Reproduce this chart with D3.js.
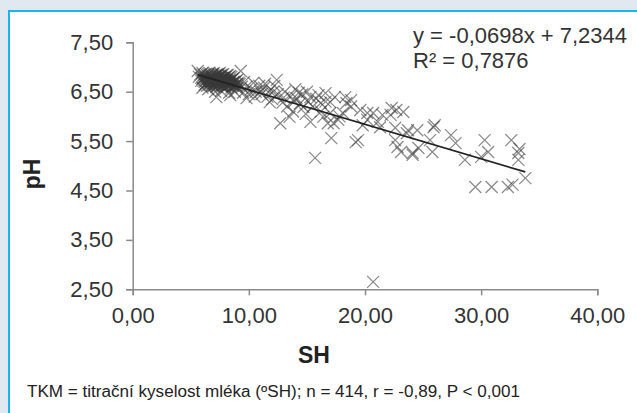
<!DOCTYPE html>
<html>
<head>
<meta charset="utf-8">
<script src="https://cdn.jsdelivr.net/npm/d3@7"></script>
<style>
body { margin: 0; background: #dfe9ef; }
svg { display: block; }
.tick text { font-family: "Liberation Sans", Arial, sans-serif; font-size: 22px; fill: #333; }
.axis path, .axis line { stroke: #8a8a8a; stroke-width: 1.5; }
</style>
</head>
<body>
<div id="chart"></div>
<script>
var width = 637;
var height = 413;

// SH (x) vs pH (y)
var points = [
	// dense group at low SH
	[5.6,6.92],[5.8,6.85],[5.9,6.78],[6.0,6.88],[6.1,6.72],[6.2,6.80],[6.3,6.66],[6.3,6.86],
	[6.4,6.75],[6.5,6.70],[6.5,6.82],[6.6,6.64],[6.6,6.88],[6.7,6.77],[6.8,6.70],[6.8,6.84],
	[6.9,6.62],[6.9,6.80],[7.0,6.74],[7.0,6.88],[7.1,6.68],[7.1,6.82],[7.2,6.60],[7.2,6.76],
	[7.3,6.86],[7.3,6.70],[7.4,6.64],[7.4,6.80],[7.5,6.74],[7.5,6.88],[7.6,6.68],[7.6,6.84],
	[7.7,6.60],[7.7,6.78],[7.8,6.72],[7.8,6.86],[7.9,6.66],[7.9,6.80],[8.0,6.58],[8.0,6.74],
	[8.1,6.84],[8.1,6.68],[8.2,6.62],[8.2,6.78],[8.3,6.72],[8.4,6.66],[8.4,6.82],[8.5,6.58],
	[8.5,6.74],[8.6,6.68],[8.7,6.62],[8.7,6.78],[8.8,6.70],[8.9,6.64],[9.0,6.58],[9.0,6.74],
	[9.2,6.66],[9.3,6.92],[9.4,6.60],[9.6,6.70],
	[6.1,6.84],[6.4,6.62],[6.7,6.68],[7.0,6.62],[7.3,6.78],[7.6,6.76],[7.9,6.72],[8.2,6.70],
	[8.8,6.62],[6.2,6.70],[6.6,6.76],[7.2,6.84],[7.8,6.64],[8.3,6.80],[5.9,6.72],[6.8,6.76],
	[7.4,6.72],[8.0,6.66],[8.6,6.76],[9.1,6.68],[6.4,6.80],[6.9,6.72],[7.5,6.66],[8.1,6.76],
	[5.7,6.80],[6.0,6.76],[6.2,6.64],[6.3,6.78],[6.5,6.86],[6.6,6.70],[6.7,6.82],[6.8,6.64],
	[6.9,6.86],[7.0,6.68],[7.1,6.76],[7.2,6.70],[7.3,6.64],[7.4,6.86],[7.5,6.80],[7.6,6.62],
	[7.7,6.72],[7.7,6.84],[7.8,6.78],[7.9,6.60],[8.0,6.80],[8.1,6.62],[8.2,6.84],[8.3,6.64],
	[8.4,6.74],[8.5,6.80],[8.6,6.62],[8.7,6.70],[8.9,6.72],[9.0,6.66],[6.1,6.78],[6.3,6.72],
	[6.5,6.76],[6.7,6.72],[6.9,6.76],[7.1,6.72],[7.3,6.74],[7.5,6.70],[7.7,6.68],[7.9,6.76],
	[8.1,6.72],[8.3,6.68],[8.5,6.66],[6.4,6.68],[6.8,6.80],[7.2,6.66],[7.6,6.72],[8.0,6.70],
	[6.0,6.58],[6.5,6.55],[7.1,6.50],[7.6,6.52],[8.3,6.48],[7.2,6.39],[8.4,6.43],[8.8,6.50],
	[9.5,6.48],[9.8,6.37],[10.0,6.45],
	// 9 - 16 SH
	[9.8,6.60],[10.2,6.55],[10.4,6.68],[10.6,6.50],[10.9,6.62],[11.0,6.50],[11.1,6.45],[11.3,6.58],
	[11.6,6.40],[11.8,6.29],[11.8,6.52],[12.0,6.35],[12.2,6.62],[12.4,6.74],[12.5,6.45],[12.7,5.86],
	[12.9,6.28],[13.1,6.50],[13.3,6.20],[13.5,5.99],[13.6,6.40],[13.8,6.10],[14.0,6.55],[14.1,6.37],
	[14.4,6.26],[14.6,6.45],[14.7,6.19],[14.9,6.05],[15.0,6.50],[15.3,6.39],[15.3,5.89],[15.5,6.20],
	[15.7,5.16],[16.0,6.43],[16.2,6.10],[16.2,6.27],[16.4,5.99],[16.6,6.47],[16.6,6.30],[16.8,5.86],
	[10.5,6.40],[11.4,6.66],[12.1,6.50],[13.0,6.38],[13.9,6.30],[14.3,6.48],[15.1,6.30],[15.8,6.36],
	// 17 - 24 SH
	[17.0,6.29],[17.0,6.07],[17.1,5.56],[17.3,5.86],[17.4,6.39],[17.7,5.93],[17.8,6.00],[18.1,6.07],
	[18.3,6.39],[18.4,6.27],[18.8,6.33],[18.8,6.20],[19.2,5.48],[19.4,5.52],[19.6,6.13],[19.8,5.82],
	[20.2,5.93],[20.2,6.07],[20.7,6.07],[20.7,2.65],[21.1,5.89],[21.3,5.78],[21.5,6.03],[22.2,6.03],
	[22.3,6.17],[22.6,5.77],[22.6,5.52],[22.7,6.13],[22.8,5.38],[23.1,5.28],[23.3,6.09],[23.6,5.66],
	[23.7,5.72],[24.1,5.26],[24.1,5.22],[24.5,5.72],[24.6,5.36],
	// 25 - 34 SH
	[25.6,5.52],[25.8,5.28],[25.9,5.78],[26.0,5.82],[27.4,5.62],[27.8,5.46],[28.6,5.12],[29.5,4.57],
	[30.0,5.18],[30.3,5.52],[30.6,5.28],[30.9,4.57],[32.3,4.57],[32.6,5.52],[32.7,4.62],[33.2,5.26],
	[33.2,5.12],[33.3,5.34],[33.8,4.75]
];

var xTicks = [0, 10, 20, 30, 40];
var yTicks = [2.5, 3.5, 4.5, 5.5, 6.5, 7.5];

var slope = -0.0698;
var intercept = 7.2344;
var eqLines = ['y = -0,0698x + 7,2344', 'R² = 0,7876'];
var note = 'TKM = titrační kyselost mléka (ºSH); n = 414, r = -0,89, P < 0,001';

var svg = d3.select('#chart').append('svg')
	.attr('width', width)
	.attr('height', height);

// white panel with blue frame
svg.append('rect')
	.attr('x', 9)
	.attr('y', 11)
	.attr('width', width + 10)
	.attr('height', height + 10)
	.attr('fill', '#fff')
	.attr('stroke', '#1ab4ee')
	.attr('stroke-width', 2);

var x = d3.scaleLinear().domain([0, 40]).range([132.7, 597.3]);
var y = d3.scaleLinear().domain([2.5, 7.5]).range([289.3, 42.3]);

var fmt = function(d) { return d.toFixed(2).replace('.', ','); };

svg.append('g')
	.attr('class', 'axis')
	.attr('transform', 'translate(0,' + y(2.5) + ')')
	.call(d3.axisBottom(x).tickValues(xTicks).tickFormat(fmt).tickSize(6).tickPadding(12))
	.selectAll('text').attr('dy', '0.71em');

svg.append('g')
	.attr('class', 'axis')
	.attr('transform', 'translate(' + x(0) + ',0)')
	.call(d3.axisLeft(y).tickValues(yTicks).tickFormat(fmt).tickSize(6.5).tickPadding(13));

// markers
svg.append('g').selectAll('.pt')
	.data(points)
	.enter()
	.append('path')
		.attr('class', 'pt')
		.attr('transform', function(d) { return 'translate(' + x(d[0]) + ',' + y(d[1]) + ')'; })
		.attr('d', 'M-6,-6L6,6M-6,6L6,-6')
		.attr('fill', 'none')
		.attr('stroke', '#3a3a3a')
		.attr('stroke-opacity', 0.6)
		.attr('stroke-width', 1.25);

// trend line
var ext = d3.extent(points, function(d) { return d[0]; });
svg.append('line')
	.attr('x1', x(ext[0]))
	.attr('y1', y(slope * ext[0] + intercept))
	.attr('x2', x(ext[1]))
	.attr('y2', y(slope * ext[1] + intercept))
	.attr('stroke', '#222')
	.attr('stroke-width', 1.8);

// equation
svg.append('g').selectAll('.eq')
	.data(eqLines)
	.enter()
	.append('text')
		.attr('x', 413)
		.attr('y', function(d, i) { return 43 + i * 25; })
		.attr('font-family', '"Liberation Sans", Arial, sans-serif')
		.attr('font-size', 22)
		.attr('fill', '#333')
		.text(function(d) { return d; });

// axis titles
svg.append('text')
	.attr('x', 314)
	.attr('y', 363)
	.attr('text-anchor', 'middle')
	.attr('font-family', '"Liberation Sans", Arial, sans-serif')
	.attr('font-weight', 'bold')
	.attr('font-size', 23)
	.attr('fill', '#222')
	.text('SH');

svg.append('text')
	.attr('transform', 'translate(40,174) rotate(-90)')
	.attr('text-anchor', 'middle')
	.attr('font-family', '"Liberation Sans", Arial, sans-serif')
	.attr('font-weight', 'bold')
	.attr('font-size', 23)
	.attr('fill', '#222')
	.text('pH');

// footnote
svg.append('text')
	.attr('x', 27)
	.attr('y', 396.7)
	.attr('font-family', '"Liberation Sans", Arial, sans-serif')
	.attr('font-size', 16)
	.attr('fill', '#222')
	.attr('textLength', 493)
	.attr('lengthAdjust', 'spacingAndGlyphs')
	.text(note);
</script>
</body>
</html>
